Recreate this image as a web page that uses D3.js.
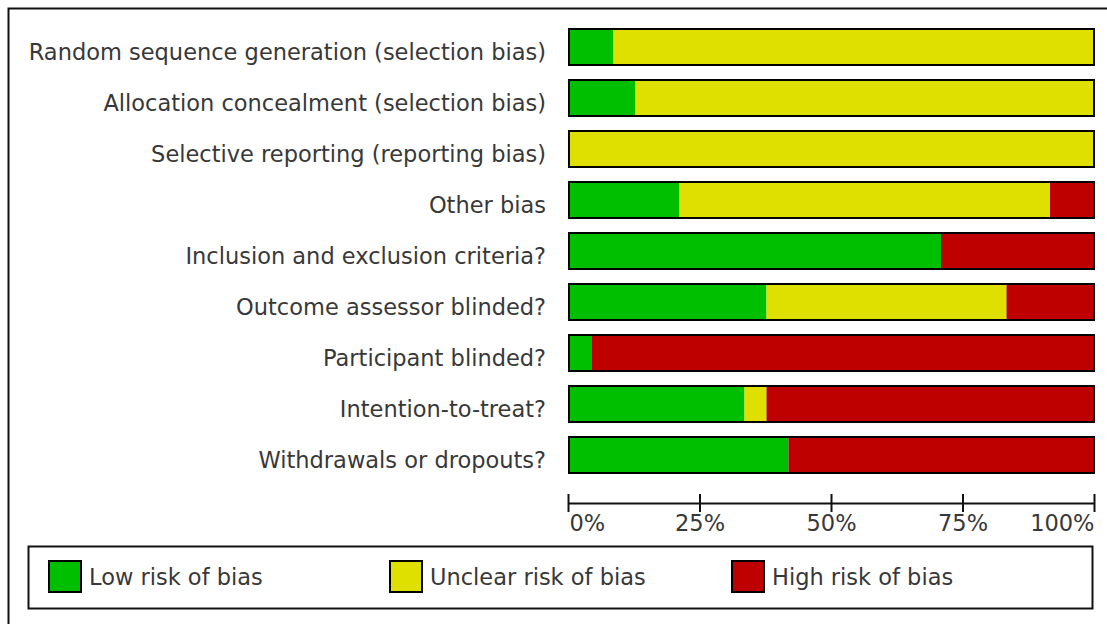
<!DOCTYPE html>
<html>
<head>
<meta charset="utf-8">
<script src="https://cdn.jsdelivr.net/npm/d3@7"></script>
<style>
  html, body { margin: 0; padding: 0; background: #fff; }
  svg { display: block; }
  text { font-family: "DejaVu Sans", sans-serif; fill: #383838; }
</style>
</head>
<body>
<svg id="chart" width="1107" height="624"></svg>
<script>
// ---- data (percent of studies) ----
const domains = [
  "Random sequence generation (selection bias)",
  "Allocation concealment (selection bias)",
  "Selective reporting (reporting bias)",
  "Other bias",
  "Inclusion and exclusion criteria?",
  "Outcome assessor blinded?",
  "Participant blinded?",
  "Intention-to-treat?",
  "Withdrawals or dropouts?"
];
const lowRisk     = [8.3, 12.5, 0,   20.8, 70.8, 37.5, 4.2,  33.3, 41.7];
const unclearRisk = [91.7, 87.5, 100, 70.8, 0,   45.8, 0,    4.2,  0];
const highRisk    = [0,    0,    0,   8.3,  29.2, 16.7, 95.8, 62.5, 58.3];
const seriesNames = ["Low risk of bias", "Unclear risk of bias", "High risk of bias"];
const seriesColors = ["#00bf00", "#e0e000", "#bf0000"];
const tickValues = [0, 25, 50, 75, 100];
const tickLabels = ["0%", "25%", "50%", "75%", "100%"];

const svg = d3.select("#chart");
const FS = 22.5;

// outer frame
svg.append("rect")
  .attr("x", 8.5).attr("y", 8.5).attr("width", 1120).attr("height", 640)
  .attr("fill", "none").attr("stroke", "#111").attr("stroke-width", 2);

const x = d3.scaleLinear().domain([0, 100]).range([568, 1094]);      // axis
const xFill = d3.scaleLinear().domain([0, 100]).range([570, 1094]);  // bar interior
const y = d3.scaleBand().domain(domains).range([28, 474]).paddingInner(0.255).paddingOuter(0);

const rows = domains.map((d, i) => ({ name: d, vals: [lowRisk[i], unclearRisk[i], highRisk[i]] }));

const g = svg.append("g");
rows.forEach(r => {
  let acc = 0;
  const segs = r.vals.map((v, k) => { const s = { x0: acc, x1: acc + v, k }; acc += v; return s; });
  const row = g.append("g");
  row.selectAll("rect.seg").data(segs.filter(s => s.x1 > s.x0)).join("rect")
    .attr("class", "seg")
    .attr("x", s => s.x0 === 0 ? x(0) : xFill(s.x0))
    .attr("width", s => xFill(s.x1) - (s.x0 === 0 ? x(0) : xFill(s.x0)))
    .attr("y", y(r.name))
    .attr("height", y.bandwidth())
    .attr("fill", s => seriesColors[s.k]);
  row.append("rect")
    .attr("x", x(0) + 1).attr("width", x(100) - x(0) - 1)
    .attr("y", y(r.name) + 1).attr("height", y.bandwidth() - 2)
    .attr("fill", "none").attr("stroke", "#000").attr("stroke-width", 2);
  row.append("text")
    .attr("x", 546).attr("y", y(r.name) + 32)
    .attr("text-anchor", "end")
    .attr("font-size", FS)
    .text(r.name);
});

// axis
const axisG = svg.append("g").attr("transform", "translate(0,503)")
  .call(d3.axisBottom(x).tickValues(tickValues).tickSizeOuter(0).tickFormat((d, i) => tickLabels[i]));
axisG.select(".domain").attr("stroke", "#111").attr("stroke-width", 2);
axisG.selectAll(".tick line").attr("y1", -9).attr("y2", 9).attr("stroke", "#111").attr("stroke-width", 2);
axisG.selectAll(".tick text")
  .attr("y", 28).attr("dy", null)
  .attr("font-size", FS).attr("font-family", "DejaVu Sans, sans-serif").attr("fill", "#383838")
  .attr("text-anchor", (d, i) => i === 0 ? "start" : (i === tickValues.length - 1 ? "end" : "middle"));
axisG.selectAll(".tick").filter((d, i) => i === 0).select("text").attr("x", 1);

// legend
svg.append("rect")
  .attr("x", 28.5).attr("y", 546.5).attr("width", 1064).attr("height", 62)
  .attr("fill", "none").attr("stroke", "#111").attr("stroke-width", 2);
const legendX = [48, 389, 731];
const lg = svg.selectAll("g.legend").data(seriesNames).join("g").attr("class", "legend")
  .attr("transform", (d, i) => `translate(${legendX[i]},560)`);
lg.append("rect").attr("x", 1).attr("y", 1).attr("width", 32).attr("height", 31)
  .attr("fill", (d, i) => seriesColors[i]).attr("stroke", "#000").attr("stroke-width", 2);
lg.append("text").attr("x", 41).attr("y", 25).attr("font-size", FS).text(d => d);
</script>
</body>
</html>
